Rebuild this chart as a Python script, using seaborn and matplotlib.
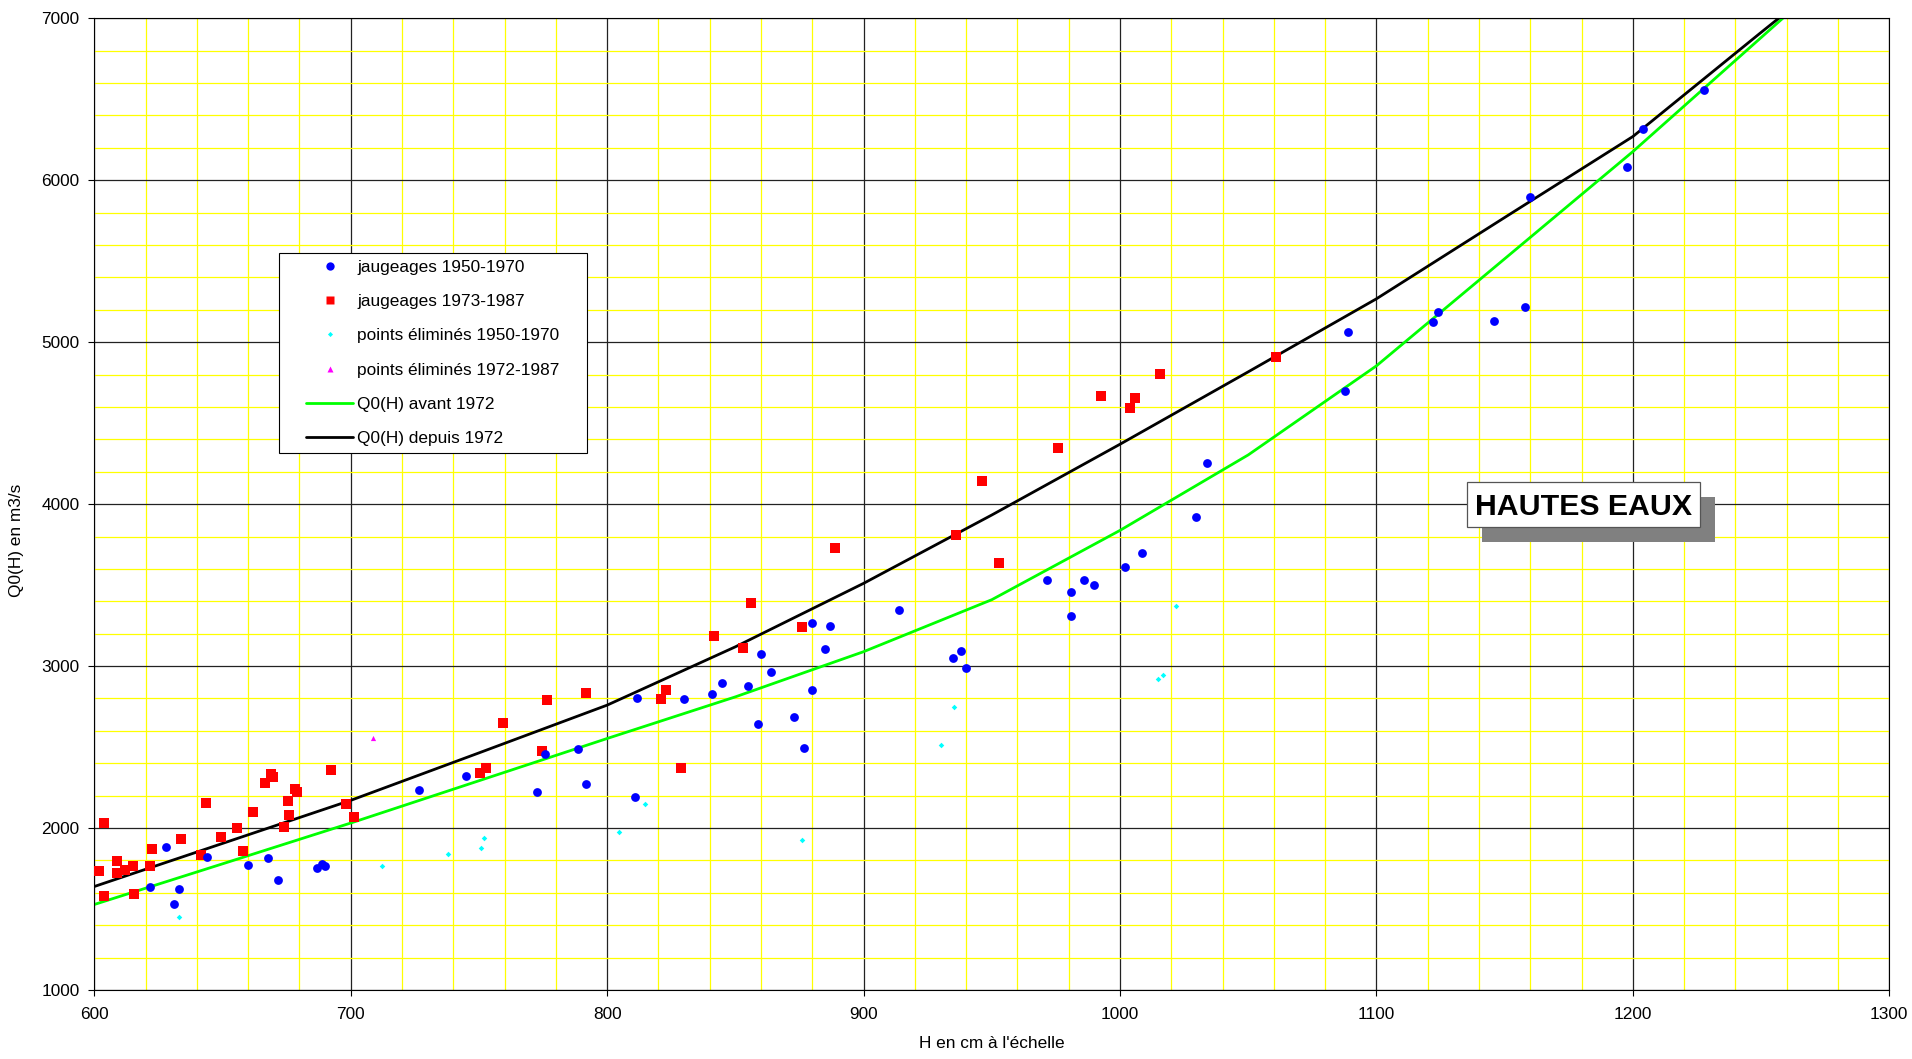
import matplotlib
matplotlib.use("Agg")
import matplotlib.pyplot as plt
from matplotlib.lines import Line2D
from matplotlib.legend_handler import HandlerLine2D
from matplotlib.patches import Rectangle
from matplotlib.ticker import MultipleLocator, FormatStrFormatter
import seaborn as sns

# Jaugeages 1950-1970 : hauteur H (cm) et débit Q (m3/s)
h_jaug_1950 = [621.9, 628.1, 633.0, 631.0, 643.9, 660.0, 667.9, 671.8, 686.9, 688.8,
               690.0, 726.8, 744.8, 772.6, 775.6, 788.7, 791.7, 810.8, 811.7, 829.9,
               840.8, 844.9, 854.9, 859.0, 859.9, 863.9, 872.9, 876.9, 879.9, 879.9,
               884.8, 886.9, 913.9, 935.0, 938.0, 940.0, 971.7, 980.7, 980.7, 985.8,
               989.8, 1001.8, 1008.7, 1029.8, 1033.9, 1087.9, 1088.9, 1121.9, 1124.0, 1146.0,
               1158.0, 1159.8, 1197.9, 1203.8, 1227.8]
q_jaug_1950 = [1633, 1883, 1623, 1532, 1821, 1769, 1812, 1680, 1751, 1777,
               1765, 2233, 2324, 2223, 2456, 2491, 2271, 2193, 2806, 2798,
               2829, 2895, 2878, 2640, 3072, 2965, 2685, 2493, 3264, 2854,
               3107, 3249, 3346, 3051, 3091, 2990, 3534, 3456, 3310, 3534,
               3501, 3612, 3698, 3922, 4257, 4696, 5060, 5123, 5189, 5131,
               5220, 5897, 6084, 6315, 6558]

# Jaugeages 1973-1987
h_jaug_1973 = [601.9, 603.9, 603.9, 609.0, 609.0, 611.9, 614.9, 615.6, 621.9, 622.6,
               634.0, 643.5, 641.6, 649.6, 655.5, 657.9, 661.8, 666.5, 668.8, 669.5,
               673.9, 675.5, 675.8, 678.4, 679.0, 692.5, 698.3, 701.3, 750.4, 752.7,
               759.4, 776.7, 774.5, 791.7, 820.9, 822.8, 828.8, 841.7, 852.8, 855.9,
               876.0, 888.9, 936.0, 946.0, 953.0, 975.8, 992.7, 1003.8, 1005.7, 1015.6,
               1060.8]
q_jaug_1973 = [1734, 2029, 1582, 1794, 1722, 1738, 1763, 1594, 1763, 1868,
               1932, 2153, 1833, 1946, 2000, 1856, 2099, 2278, 2336, 2313,
               2008, 2169, 2082, 2243, 2223, 2361, 2146, 2070, 2340, 2373,
               2647, 2790, 2478, 2831, 2796, 2854, 2372, 3183, 3109, 3389,
               3243, 3731, 3809, 4145, 3637, 4349, 4667, 4595, 4657, 4801,
               4910]

# Points éliminés 1950-1970
h_elim_1950 = [633.0, 712.0, 738.0, 750.9, 751.9, 804.8, 814.9, 876.0, 930.0, 935.2,
               1014.8, 1016.8, 1021.9]
q_elim_1950 = [1452, 1763, 1841, 1878, 1940, 1978, 2147, 1927, 2512, 2745,
               2922, 2947, 3374]

# Points éliminés 1972-1987
h_elim_1972 = [708.8]
q_elim_1972 = [2559]

# Courbes de tarage Q0(H)
h_courbe = [600, 650, 700, 750, 800, 850, 900, 950, 1000, 1050, 1100, 1150, 1200, 1250, 1260]
q_avant_1972 = [1528, 1779, 2031, 2292, 2553, 2810, 3089, 3410, 3838, 4304, 4854, 5515, 6177, 6881, 7022]
q_depuis_1972 = [1639, 1905, 2171, 2464, 2759, 3119, 3511, 3933, 4370, 4817, 5268, 5770, 6270, 6913, 7040]

labels = ["jaugeages 1950-1970", "jaugeages 1973-1987", "points éliminés 1950-1970",
          "points éliminés 1972-1987", "Q0(H) avant 1972", "Q0(H) depuis 1972"]

sns.set_style("white")
plt.rcParams['font.family'] = ['Liberation Sans', 'DejaVu Sans']
FS = 12.4

fig = plt.figure(figsize=(19.12, 10.59), dpi=100)
ax = fig.add_axes([0.04932, 0.06516, 0.93881, 0.91756])

# rating curves
sns.lineplot(x=h_courbe, y=q_avant_1972, ax=ax, color='#00FF00', lw=2.0,
             sort=False, estimator=None, zorder=2, legend=False)
sns.lineplot(x=h_courbe, y=q_depuis_1972, ax=ax, color='#000000', lw=2.0,
             sort=False, estimator=None, zorder=2, legend=False)

# gaugings
sns.scatterplot(x=h_jaug_1973, y=q_jaug_1973, ax=ax, color='#FF0000', marker='s',
                s=44, linewidth=0, zorder=3, legend=False)
sns.scatterplot(x=h_jaug_1950, y=q_jaug_1950, ax=ax, color='#0000FF', marker='o',
                s=40, linewidth=0, zorder=4, legend=False)
sns.scatterplot(x=h_elim_1950, y=q_elim_1950, ax=ax, color='#00FFFF', marker='D',
                s=8, linewidth=0, zorder=5, legend=False)
sns.scatterplot(x=h_elim_1972, y=q_elim_1972, ax=ax, color='#FF00FF', marker='^',
                s=14, linewidth=0, zorder=5, legend=False)

ax.set_xlim(600, 1300)
ax.set_ylim(1000, 7000)
ax.xaxis.set_major_locator(MultipleLocator(100))
ax.xaxis.set_minor_locator(MultipleLocator(20))
ax.yaxis.set_major_locator(MultipleLocator(1000))
ax.yaxis.set_minor_locator(MultipleLocator(200))
ax.xaxis.set_major_formatter(FormatStrFormatter('%d'))
ax.yaxis.set_major_formatter(FormatStrFormatter('%d'))
ax.grid(which='minor', color='#FFFF00', lw=0.9)
ax.grid(which='major', color='#222222', lw=0.9)
ax.set_axisbelow(True)
ax.tick_params(which='major', direction='out', length=4.3, width=0.8, color='black',
               labelsize=FS, labelcolor='black', bottom=True, left=True)
ax.tick_params(axis='x', which='major', pad=8.0)
ax.tick_params(axis='y', which='major', pad=6.2)
ax.tick_params(which='minor', length=0, bottom=False, left=False)
for sp in ax.spines.values():
    sp.set_color('black')
    sp.set_linewidth(0.8)

ax.set_xlabel("H en cm à l'échelle", fontsize=FS, color='black')
ax.set_ylabel("Q0(H) en m3/s", fontsize=FS, color='black')
ax.xaxis.set_label_coords(0.5, -0.0473)
ax.yaxis.set_label_coords(-0.0389, 0.463)

# legend
handles = [
    Line2D([], [], ls='none', marker='o', ms=6.0, color='#0000FF', mec='none'),
    Line2D([], [], ls='none', marker='s', ms=5.6, color='#FF0000', mec='none'),
    Line2D([], [], ls='none', marker='D', ms=2.6, color='#00FFFF', mec='none'),
    Line2D([], [], ls='none', marker='^', ms=3.8, color='#FF00FF', mec='none'),
    Line2D([], [], color='#00FF00', lw=2.0),
    Line2D([], [], color='#000000', lw=2.0),
]
leg = ax.legend(handles, labels, loc='upper left',
                bbox_to_anchor=(0.14608, 0.57252, 0.16077, 0.18886),
                bbox_transform=fig.transFigure, mode='expand', borderaxespad=0,
                borderpad=0.4, handlelength=3.88, handletextpad=0.25,
                labelspacing=1.12, fontsize=FS, frameon=True, fancybox=False,
                edgecolor='black', framealpha=1, facecolor='white',
                handler_map={Line2D: HandlerLine2D(xpad=1.15)})
leg.get_frame().set_linewidth(0.8)
for t in leg.get_texts():
    t.set_color('black')

# "HAUTES EAUX" label with drop shadow
bx, by, bw, bh = 0.7671, 0.5021, 0.12202, 0.04306
fig.add_artist(Rectangle((bx + 0.00785, by - 0.01416), bw, bh, transform=fig.transFigure,
                         facecolor='#808080', edgecolor='none', zorder=5))
fig.add_artist(Rectangle((bx, by), bw, bh, transform=fig.transFigure,
                         facecolor='white', edgecolor='#555555', lw=0.9, zorder=6))
fig.text(bx + bw / 2, 0.51369, "HAUTES EAUX", ha='center', va='baseline',
         fontsize=21.8, fontweight='bold', color='black', zorder=7)

fig.savefig("out.png", dpi=100, facecolor='white')
